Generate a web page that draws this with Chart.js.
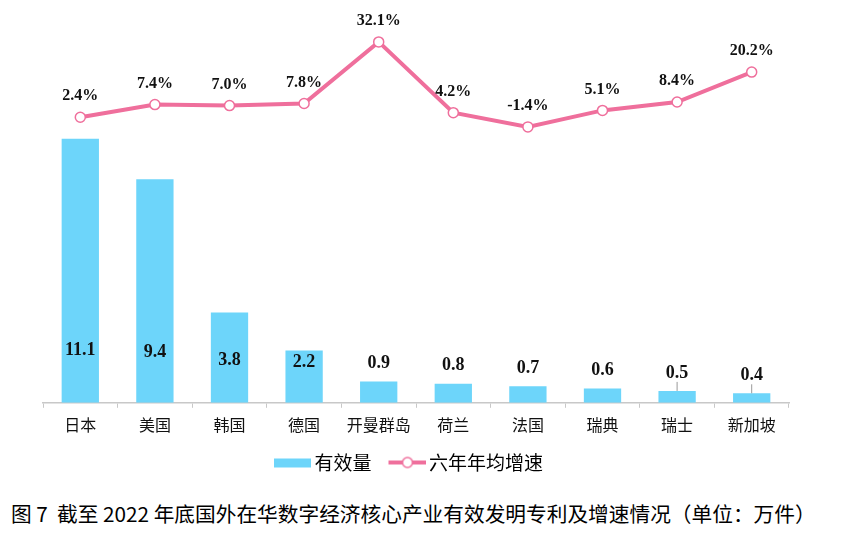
<!DOCTYPE html>
<html>
<head>
<meta charset="utf-8">
<script src="https://cdn.jsdelivr.net/npm/chart.js@4.4.0/dist/chart.umd.min.js"></script>
<style>
body { margin: 0; background: #fff; }
#wrap { position: absolute; left: 0; top: 0; width: 858px; height: 482px; }
#caption { position: absolute; left: 11px; top: 498px; font: 20.7px "Noto Sans CJK SC", sans-serif; color: #000; white-space: pre; line-height: 30px; }
</style>
</head>
<body>
<div id="wrap"><canvas id="chart"></canvas></div>
<div id="caption">图 7  截至 2022 年底国外在华数字经济核心产业有效发明专利及增速情况（单位：万件）</div>
<script>
// data
const countries = ["日本", "美国", "韩国", "德国", "开曼群岛", "荷兰", "法国", "瑞典", "瑞士", "新加坡"];
const validCounts = [11.1, 9.4, 3.8, 2.2, 0.9, 0.8, 0.7, 0.6, 0.5, 0.4];
const growthRates = [2.4, 7.4, 7.0, 7.8, 32.1, 4.2, -1.4, 5.1, 8.4, 20.2];
const seriesNames = ["有效量", "六年年均增速"];

// axis ranges (both axes hidden)
const countAxisMax = 15.67;
const rateAxisMin = -110.2;
const rateAxisMax = 36.8;

const barColor = "#6DD5FA";
const lineColor = "#EF6F9C";
const serif = '"Liberation Serif", "Times New Roman", serif';
const cjk = '"Noto Sans CJK SC", sans-serif';

function legendIcon(kind) {
  const c = document.createElement("canvas");
  c.width = 52; c.height = 16;
  const g = c.getContext("2d");
  if (kind === "bar") {
    g.fillStyle = barColor;
    g.fillRect(14, 4, 37, 9);
  } else {
    g.strokeStyle = lineColor;
    g.lineWidth = 4;
    g.beginPath(); g.moveTo(14, 8); g.lineTo(52, 8); g.stroke();
    g.beginPath(); g.arc(33, 8, 5, 0, Math.PI * 2);
    g.fillStyle = "#fff"; g.fill();
    g.lineWidth = 1.5; g.stroke();
  }
  return c;
}
const icons = [legendIcon("bar"), legendIcon("line")];

const valueLabels = {
  id: "valueLabels",
  afterLayout(chart) {
    // nudge legend a little left, like the original
    chart.legend.left -= 11;
    chart.legend.right -= 11;
  },
  afterDatasetsDraw(chart) {
    const ctx = chart.ctx;
    ctx.save();
    ctx.textAlign = "center";
    ctx.textBaseline = "middle";
    ctx.fillStyle = "#111";

    // bar values
    ctx.font = "bold 18px " + serif;
    chart.getDatasetMeta(0).data.forEach((bar, i) => {
      const v = validCounts[i];
      let ty;
      if (v >= 2) {
        ty = bar.base - 38 - 1.3 * v;
      } else {
        ty = bar.y - 18;
        if (v <= 0.5) {
          ctx.strokeStyle = "#999";
          ctx.lineWidth = 1;
          ctx.beginPath();
          ctx.moveTo(bar.x, ty + 9);
          ctx.lineTo(bar.x, bar.y);
          ctx.stroke();
        }
      }
      ctx.fillText(v.toFixed(1), bar.x, ty);
    });

    // growth values
    ctx.font = "bold 16px " + serif;
    chart.getDatasetMeta(1).data.forEach((pt, i) => {
      ctx.fillText(growthRates[i].toFixed(1) + "%", pt.x, pt.y - 21);
    });
    ctx.restore();
  }
};

new Chart(document.getElementById("chart"), {
  data: {
    labels: countries,
    datasets: [
      {
        type: "bar",
        label: seriesNames[0],
        data: validCounts,
        yAxisID: "yCount",
        backgroundColor: barColor,
        barPercentage: 0.5,
        categoryPercentage: 1,
        order: 1
      },
      {
        type: "line",
        label: seriesNames[1],
        data: growthRates,
        yAxisID: "yRate",
        borderColor: lineColor,
        borderWidth: 4,
        pointRadius: 5,
        pointBorderWidth: 1.5,
        pointBackgroundColor: "#fff",
        pointBorderColor: lineColor,
        tension: 0,
        order: 0
      }
    ]
  },
  options: {
    responsive: true,
    maintainAspectRatio: false,
    animation: false,
    layout: { padding: { left: 43, right: 69, top: 30, bottom: 0 } },
    scales: {
      x: {
        offset: true,
        grid: { display: true, drawOnChartArea: false, drawTicks: true, tickLength: 5, color: "#c8c8c8", offset: true },
        border: { display: true, color: "#c8c8c8", width: 1.5 },
        ticks: { color: "#111", padding: 8, font: { family: cjk, size: 16 }, maxRotation: 0 }
      },
      yCount: { display: false, min: 0, max: countAxisMax },
      yRate: { display: false, min: rateAxisMin, max: rateAxisMax }
    },
    plugins: {
      tooltip: { enabled: false },
      legend: {
        position: "bottom",
        labels: {
          usePointStyle: true,
          pointStyleWidth: 38,
          boxHeight: 16,
          padding: 10,
          color: "#111",
          font: { family: cjk, size: 19 },
          generateLabels: () => [0, 1].map(d => ({
            text: seriesNames[d],
            pointStyle: icons[d],
            fillStyle: "transparent",
            strokeStyle: "transparent",
            lineWidth: 0,
            datasetIndex: d
          }))
        }
      }
    }
  },
  plugins: [valueLabels]
});
</script>
</body>
</html>
